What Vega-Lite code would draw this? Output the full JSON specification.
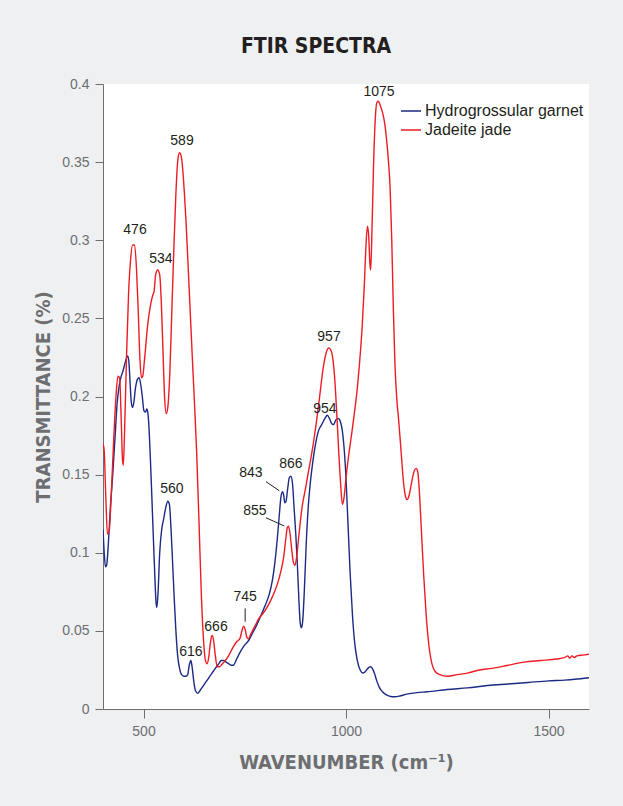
{
  "$schema": "https://vega.github.io/schema/vega-lite/v6.json",
  "width": 486,
  "height": 625,
  "autosize": {"type": "none"},
  "padding": {"left": 103, "top": 84, "right": 34, "bottom": 97},
  "background": "#eff0f2",
  "view": {"fill": "white", "stroke": null},
  "title": {
    "text": "FTIR SPECTRA",
    "anchor": "middle",
    "frame": "group",
    "dx": -30,
    "font": "DejaVu Sans Condensed",
    "fontSize": 21,
    "fontWeight": "bold",
    "color": "#231f20",
    "offset": 20
  },
  "datasets": {
    "labels": [
      {"w": 1081.5, "v": 0.3949, "t": "1075"},
      {"w": 595, "v": 0.3635, "t": "589"},
      {"w": 479, "v": 0.3066, "t": "476"},
      {"w": 543, "v": 0.288, "t": "534"},
      {"w": 570, "v": 0.1408, "t": "560"},
      {"w": 617, "v": 0.0365, "t": "616"},
      {"w": 679, "v": 0.0525, "t": "666"},
      {"w": 751, "v": 0.0717, "t": "745"},
      {"w": 765, "v": 0.151, "t": "843"},
      {"w": 864, "v": 0.1568, "t": "866"},
      {"w": 775, "v": 0.1267, "t": "855"},
      {"w": 958, "v": 0.238, "t": "957"},
      {"w": 948, "v": 0.192, "t": "954"}
    ],
    "leaders": [
      {"w": 751, "v": 0.0644, "w2": 751, "v2": 0.0559},
      {"w": 802.5, "v": 0.1455, "w2": 835.3, "v2": 0.1397},
      {"w": 802.5, "v": 0.1224, "w2": 847.7, "v2": 0.1171}
    ],
    "spectra": [
      {"s": "Hydrogrossular garnet", "w": 400, "v": 0.115},
      {"s": "Hydrogrossular garnet", "w": 403, "v": 0.1},
      {"s": "Hydrogrossular garnet", "w": 406, "v": 0.091},
      {"s": "Hydrogrossular garnet", "w": 409, "v": 0.092},
      {"s": "Hydrogrossular garnet", "w": 413, "v": 0.105},
      {"s": "Hydrogrossular garnet", "w": 418, "v": 0.128},
      {"s": "Hydrogrossular garnet", "w": 424, "v": 0.15},
      {"s": "Hydrogrossular garnet", "w": 430, "v": 0.175},
      {"s": "Hydrogrossular garnet", "w": 435, "v": 0.196},
      {"s": "Hydrogrossular garnet", "w": 440, "v": 0.207},
      {"s": "Hydrogrossular garnet", "w": 445, "v": 0.213},
      {"s": "Hydrogrossular garnet", "w": 450, "v": 0.217},
      {"s": "Hydrogrossular garnet", "w": 455, "v": 0.222},
      {"s": "Hydrogrossular garnet", "w": 461, "v": 0.226},
      {"s": "Hydrogrossular garnet", "w": 464, "v": 0.222},
      {"s": "Hydrogrossular garnet", "w": 467, "v": 0.208},
      {"s": "Hydrogrossular garnet", "w": 470, "v": 0.196},
      {"s": "Hydrogrossular garnet", "w": 473, "v": 0.193},
      {"s": "Hydrogrossular garnet", "w": 476, "v": 0.196},
      {"s": "Hydrogrossular garnet", "w": 480, "v": 0.205},
      {"s": "Hydrogrossular garnet", "w": 485, "v": 0.211},
      {"s": "Hydrogrossular garnet", "w": 489, "v": 0.212},
      {"s": "Hydrogrossular garnet", "w": 493, "v": 0.208},
      {"s": "Hydrogrossular garnet", "w": 497, "v": 0.2},
      {"s": "Hydrogrossular garnet", "w": 501, "v": 0.191},
      {"s": "Hydrogrossular garnet", "w": 505, "v": 0.19},
      {"s": "Hydrogrossular garnet", "w": 508, "v": 0.192},
      {"s": "Hydrogrossular garnet", "w": 511, "v": 0.189},
      {"s": "Hydrogrossular garnet", "w": 514, "v": 0.178},
      {"s": "Hydrogrossular garnet", "w": 517, "v": 0.16},
      {"s": "Hydrogrossular garnet", "w": 520, "v": 0.14},
      {"s": "Hydrogrossular garnet", "w": 524, "v": 0.112},
      {"s": "Hydrogrossular garnet", "w": 528, "v": 0.085},
      {"s": "Hydrogrossular garnet", "w": 531, "v": 0.068},
      {"s": "Hydrogrossular garnet", "w": 533, "v": 0.065},
      {"s": "Hydrogrossular garnet", "w": 536, "v": 0.075},
      {"s": "Hydrogrossular garnet", "w": 540, "v": 0.1},
      {"s": "Hydrogrossular garnet", "w": 545, "v": 0.115},
      {"s": "Hydrogrossular garnet", "w": 550, "v": 0.122},
      {"s": "Hydrogrossular garnet", "w": 555, "v": 0.129},
      {"s": "Hydrogrossular garnet", "w": 560, "v": 0.133},
      {"s": "Hydrogrossular garnet", "w": 564, "v": 0.131},
      {"s": "Hydrogrossular garnet", "w": 568, "v": 0.115},
      {"s": "Hydrogrossular garnet", "w": 572, "v": 0.093},
      {"s": "Hydrogrossular garnet", "w": 576, "v": 0.07},
      {"s": "Hydrogrossular garnet", "w": 580, "v": 0.05},
      {"s": "Hydrogrossular garnet", "w": 584, "v": 0.035},
      {"s": "Hydrogrossular garnet", "w": 589, "v": 0.026},
      {"s": "Hydrogrossular garnet", "w": 594, "v": 0.022},
      {"s": "Hydrogrossular garnet", "w": 600, "v": 0.021},
      {"s": "Hydrogrossular garnet", "w": 605, "v": 0.021},
      {"s": "Hydrogrossular garnet", "w": 609, "v": 0.022},
      {"s": "Hydrogrossular garnet", "w": 613, "v": 0.028},
      {"s": "Hydrogrossular garnet", "w": 617, "v": 0.031},
      {"s": "Hydrogrossular garnet", "w": 620, "v": 0.027},
      {"s": "Hydrogrossular garnet", "w": 624, "v": 0.018},
      {"s": "Hydrogrossular garnet", "w": 628, "v": 0.012},
      {"s": "Hydrogrossular garnet", "w": 634, "v": 0.01},
      {"s": "Hydrogrossular garnet", "w": 640, "v": 0.012},
      {"s": "Hydrogrossular garnet", "w": 648, "v": 0.015},
      {"s": "Hydrogrossular garnet", "w": 656, "v": 0.018},
      {"s": "Hydrogrossular garnet", "w": 664, "v": 0.021},
      {"s": "Hydrogrossular garnet", "w": 672, "v": 0.024},
      {"s": "Hydrogrossular garnet", "w": 680, "v": 0.027},
      {"s": "Hydrogrossular garnet", "w": 686, "v": 0.029},
      {"s": "Hydrogrossular garnet", "w": 692, "v": 0.031},
      {"s": "Hydrogrossular garnet", "w": 698, "v": 0.031},
      {"s": "Hydrogrossular garnet", "w": 704, "v": 0.03},
      {"s": "Hydrogrossular garnet", "w": 710, "v": 0.029},
      {"s": "Hydrogrossular garnet", "w": 716, "v": 0.028},
      {"s": "Hydrogrossular garnet", "w": 722, "v": 0.028},
      {"s": "Hydrogrossular garnet", "w": 730, "v": 0.032},
      {"s": "Hydrogrossular garnet", "w": 740, "v": 0.037},
      {"s": "Hydrogrossular garnet", "w": 750, "v": 0.041},
      {"s": "Hydrogrossular garnet", "w": 760, "v": 0.044},
      {"s": "Hydrogrossular garnet", "w": 770, "v": 0.049},
      {"s": "Hydrogrossular garnet", "w": 780, "v": 0.054},
      {"s": "Hydrogrossular garnet", "w": 790, "v": 0.06},
      {"s": "Hydrogrossular garnet", "w": 800, "v": 0.066},
      {"s": "Hydrogrossular garnet", "w": 810, "v": 0.073},
      {"s": "Hydrogrossular garnet", "w": 818, "v": 0.082},
      {"s": "Hydrogrossular garnet", "w": 825, "v": 0.095},
      {"s": "Hydrogrossular garnet", "w": 830, "v": 0.108},
      {"s": "Hydrogrossular garnet", "w": 835, "v": 0.123},
      {"s": "Hydrogrossular garnet", "w": 839, "v": 0.135},
      {"s": "Hydrogrossular garnet", "w": 843, "v": 0.139},
      {"s": "Hydrogrossular garnet", "w": 846, "v": 0.137},
      {"s": "Hydrogrossular garnet", "w": 849, "v": 0.132},
      {"s": "Hydrogrossular garnet", "w": 852, "v": 0.133},
      {"s": "Hydrogrossular garnet", "w": 856, "v": 0.141},
      {"s": "Hydrogrossular garnet", "w": 860, "v": 0.148},
      {"s": "Hydrogrossular garnet", "w": 864, "v": 0.149},
      {"s": "Hydrogrossular garnet", "w": 868, "v": 0.144},
      {"s": "Hydrogrossular garnet", "w": 872, "v": 0.128},
      {"s": "Hydrogrossular garnet", "w": 876, "v": 0.112},
      {"s": "Hydrogrossular garnet", "w": 880, "v": 0.092},
      {"s": "Hydrogrossular garnet", "w": 884, "v": 0.068},
      {"s": "Hydrogrossular garnet", "w": 887, "v": 0.055},
      {"s": "Hydrogrossular garnet", "w": 890, "v": 0.052},
      {"s": "Hydrogrossular garnet", "w": 893, "v": 0.056},
      {"s": "Hydrogrossular garnet", "w": 897, "v": 0.075},
      {"s": "Hydrogrossular garnet", "w": 902, "v": 0.107},
      {"s": "Hydrogrossular garnet", "w": 907, "v": 0.13},
      {"s": "Hydrogrossular garnet", "w": 912, "v": 0.145},
      {"s": "Hydrogrossular garnet", "w": 918, "v": 0.158},
      {"s": "Hydrogrossular garnet", "w": 925, "v": 0.17},
      {"s": "Hydrogrossular garnet", "w": 932, "v": 0.178},
      {"s": "Hydrogrossular garnet", "w": 940, "v": 0.182},
      {"s": "Hydrogrossular garnet", "w": 948, "v": 0.186},
      {"s": "Hydrogrossular garnet", "w": 954, "v": 0.188},
      {"s": "Hydrogrossular garnet", "w": 959, "v": 0.186},
      {"s": "Hydrogrossular garnet", "w": 964, "v": 0.183},
      {"s": "Hydrogrossular garnet", "w": 969, "v": 0.182},
      {"s": "Hydrogrossular garnet", "w": 975, "v": 0.185},
      {"s": "Hydrogrossular garnet", "w": 981, "v": 0.186},
      {"s": "Hydrogrossular garnet", "w": 986, "v": 0.184},
      {"s": "Hydrogrossular garnet", "w": 991, "v": 0.178},
      {"s": "Hydrogrossular garnet", "w": 995, "v": 0.168},
      {"s": "Hydrogrossular garnet", "w": 1000, "v": 0.148},
      {"s": "Hydrogrossular garnet", "w": 1005, "v": 0.118},
      {"s": "Hydrogrossular garnet", "w": 1010, "v": 0.088},
      {"s": "Hydrogrossular garnet", "w": 1016, "v": 0.06},
      {"s": "Hydrogrossular garnet", "w": 1022, "v": 0.041},
      {"s": "Hydrogrossular garnet", "w": 1028, "v": 0.031},
      {"s": "Hydrogrossular garnet", "w": 1035, "v": 0.025},
      {"s": "Hydrogrossular garnet", "w": 1042, "v": 0.023},
      {"s": "Hydrogrossular garnet", "w": 1048, "v": 0.024},
      {"s": "Hydrogrossular garnet", "w": 1054, "v": 0.026},
      {"s": "Hydrogrossular garnet", "w": 1060, "v": 0.027},
      {"s": "Hydrogrossular garnet", "w": 1065, "v": 0.026},
      {"s": "Hydrogrossular garnet", "w": 1070, "v": 0.023},
      {"s": "Hydrogrossular garnet", "w": 1076, "v": 0.018},
      {"s": "Hydrogrossular garnet", "w": 1082, "v": 0.014},
      {"s": "Hydrogrossular garnet", "w": 1090, "v": 0.011},
      {"s": "Hydrogrossular garnet", "w": 1100, "v": 0.009},
      {"s": "Hydrogrossular garnet", "w": 1110, "v": 0.008},
      {"s": "Hydrogrossular garnet", "w": 1121, "v": 0.0078},
      {"s": "Hydrogrossular garnet", "w": 1135, "v": 0.0085},
      {"s": "Hydrogrossular garnet", "w": 1150, "v": 0.0095},
      {"s": "Hydrogrossular garnet", "w": 1175, "v": 0.0105},
      {"s": "Hydrogrossular garnet", "w": 1200, "v": 0.011},
      {"s": "Hydrogrossular garnet", "w": 1250, "v": 0.0125},
      {"s": "Hydrogrossular garnet", "w": 1300, "v": 0.0135},
      {"s": "Hydrogrossular garnet", "w": 1350, "v": 0.015},
      {"s": "Hydrogrossular garnet", "w": 1400, "v": 0.016},
      {"s": "Hydrogrossular garnet", "w": 1450, "v": 0.017},
      {"s": "Hydrogrossular garnet", "w": 1500, "v": 0.018},
      {"s": "Hydrogrossular garnet", "w": 1540, "v": 0.0185},
      {"s": "Hydrogrossular garnet", "w": 1565, "v": 0.019},
      {"s": "Hydrogrossular garnet", "w": 1600, "v": 0.02},
      {"s": "Jadeite jade", "w": 400, "v": 0.17},
      {"s": "Jadeite jade", "w": 403, "v": 0.165},
      {"s": "Jadeite jade", "w": 407, "v": 0.135},
      {"s": "Jadeite jade", "w": 411, "v": 0.112},
      {"s": "Jadeite jade", "w": 415, "v": 0.113},
      {"s": "Jadeite jade", "w": 420, "v": 0.135},
      {"s": "Jadeite jade", "w": 426, "v": 0.17},
      {"s": "Jadeite jade", "w": 432, "v": 0.2},
      {"s": "Jadeite jade", "w": 437, "v": 0.213},
      {"s": "Jadeite jade", "w": 441, "v": 0.212},
      {"s": "Jadeite jade", "w": 445, "v": 0.185},
      {"s": "Jadeite jade", "w": 448, "v": 0.16},
      {"s": "Jadeite jade", "w": 450, "v": 0.156},
      {"s": "Jadeite jade", "w": 453, "v": 0.175},
      {"s": "Jadeite jade", "w": 458, "v": 0.225},
      {"s": "Jadeite jade", "w": 463, "v": 0.265},
      {"s": "Jadeite jade", "w": 468, "v": 0.287},
      {"s": "Jadeite jade", "w": 473, "v": 0.297},
      {"s": "Jadeite jade", "w": 478, "v": 0.297},
      {"s": "Jadeite jade", "w": 483, "v": 0.28},
      {"s": "Jadeite jade", "w": 487, "v": 0.255},
      {"s": "Jadeite jade", "w": 491, "v": 0.225},
      {"s": "Jadeite jade", "w": 495, "v": 0.212},
      {"s": "Jadeite jade", "w": 498, "v": 0.213},
      {"s": "Jadeite jade", "w": 503, "v": 0.225},
      {"s": "Jadeite jade", "w": 510, "v": 0.245},
      {"s": "Jadeite jade", "w": 517, "v": 0.258},
      {"s": "Jadeite jade", "w": 523, "v": 0.265},
      {"s": "Jadeite jade", "w": 526, "v": 0.267},
      {"s": "Jadeite jade", "w": 530, "v": 0.278},
      {"s": "Jadeite jade", "w": 535, "v": 0.281},
      {"s": "Jadeite jade", "w": 540, "v": 0.278},
      {"s": "Jadeite jade", "w": 544, "v": 0.26},
      {"s": "Jadeite jade", "w": 548, "v": 0.23},
      {"s": "Jadeite jade", "w": 552, "v": 0.2},
      {"s": "Jadeite jade", "w": 556, "v": 0.189},
      {"s": "Jadeite jade", "w": 560, "v": 0.193},
      {"s": "Jadeite jade", "w": 565, "v": 0.215},
      {"s": "Jadeite jade", "w": 570, "v": 0.255},
      {"s": "Jadeite jade", "w": 575, "v": 0.295},
      {"s": "Jadeite jade", "w": 580, "v": 0.33},
      {"s": "Jadeite jade", "w": 585, "v": 0.352},
      {"s": "Jadeite jade", "w": 589, "v": 0.356},
      {"s": "Jadeite jade", "w": 593, "v": 0.354},
      {"s": "Jadeite jade", "w": 597, "v": 0.345},
      {"s": "Jadeite jade", "w": 601, "v": 0.33},
      {"s": "Jadeite jade", "w": 605, "v": 0.312},
      {"s": "Jadeite jade", "w": 609, "v": 0.29},
      {"s": "Jadeite jade", "w": 614, "v": 0.262},
      {"s": "Jadeite jade", "w": 620, "v": 0.228},
      {"s": "Jadeite jade", "w": 626, "v": 0.195},
      {"s": "Jadeite jade", "w": 631, "v": 0.166},
      {"s": "Jadeite jade", "w": 637, "v": 0.12},
      {"s": "Jadeite jade", "w": 643, "v": 0.072},
      {"s": "Jadeite jade", "w": 648, "v": 0.045},
      {"s": "Jadeite jade", "w": 653, "v": 0.031},
      {"s": "Jadeite jade", "w": 657, "v": 0.029},
      {"s": "Jadeite jade", "w": 661, "v": 0.033},
      {"s": "Jadeite jade", "w": 665, "v": 0.042},
      {"s": "Jadeite jade", "w": 669, "v": 0.047},
      {"s": "Jadeite jade", "w": 673, "v": 0.044},
      {"s": "Jadeite jade", "w": 677, "v": 0.035},
      {"s": "Jadeite jade", "w": 682, "v": 0.027},
      {"s": "Jadeite jade", "w": 688, "v": 0.027},
      {"s": "Jadeite jade", "w": 695, "v": 0.029},
      {"s": "Jadeite jade", "w": 702, "v": 0.031},
      {"s": "Jadeite jade", "w": 710, "v": 0.034},
      {"s": "Jadeite jade", "w": 720, "v": 0.039},
      {"s": "Jadeite jade", "w": 730, "v": 0.043},
      {"s": "Jadeite jade", "w": 738, "v": 0.045},
      {"s": "Jadeite jade", "w": 743, "v": 0.05},
      {"s": "Jadeite jade", "w": 747, "v": 0.053},
      {"s": "Jadeite jade", "w": 751, "v": 0.051},
      {"s": "Jadeite jade", "w": 755, "v": 0.046},
      {"s": "Jadeite jade", "w": 759, "v": 0.045},
      {"s": "Jadeite jade", "w": 765, "v": 0.048},
      {"s": "Jadeite jade", "w": 775, "v": 0.053},
      {"s": "Jadeite jade", "w": 785, "v": 0.058},
      {"s": "Jadeite jade", "w": 795, "v": 0.061},
      {"s": "Jadeite jade", "w": 805, "v": 0.065},
      {"s": "Jadeite jade", "w": 815, "v": 0.07},
      {"s": "Jadeite jade", "w": 825, "v": 0.076},
      {"s": "Jadeite jade", "w": 833, "v": 0.082},
      {"s": "Jadeite jade", "w": 840, "v": 0.089},
      {"s": "Jadeite jade", "w": 846, "v": 0.097},
      {"s": "Jadeite jade", "w": 851, "v": 0.108},
      {"s": "Jadeite jade", "w": 855, "v": 0.116},
      {"s": "Jadeite jade", "w": 858, "v": 0.117},
      {"s": "Jadeite jade", "w": 862, "v": 0.112},
      {"s": "Jadeite jade", "w": 866, "v": 0.102},
      {"s": "Jadeite jade", "w": 870, "v": 0.094},
      {"s": "Jadeite jade", "w": 874, "v": 0.092},
      {"s": "Jadeite jade", "w": 878, "v": 0.097},
      {"s": "Jadeite jade", "w": 884, "v": 0.112},
      {"s": "Jadeite jade", "w": 892, "v": 0.13},
      {"s": "Jadeite jade", "w": 900, "v": 0.141},
      {"s": "Jadeite jade", "w": 906, "v": 0.15},
      {"s": "Jadeite jade", "w": 915, "v": 0.163},
      {"s": "Jadeite jade", "w": 925, "v": 0.18},
      {"s": "Jadeite jade", "w": 935, "v": 0.2},
      {"s": "Jadeite jade", "w": 943, "v": 0.217},
      {"s": "Jadeite jade", "w": 950, "v": 0.227},
      {"s": "Jadeite jade", "w": 957, "v": 0.231},
      {"s": "Jadeite jade", "w": 962, "v": 0.23},
      {"s": "Jadeite jade", "w": 967, "v": 0.225},
      {"s": "Jadeite jade", "w": 972, "v": 0.212},
      {"s": "Jadeite jade", "w": 977, "v": 0.19},
      {"s": "Jadeite jade", "w": 982, "v": 0.165},
      {"s": "Jadeite jade", "w": 987, "v": 0.143},
      {"s": "Jadeite jade", "w": 991, "v": 0.131},
      {"s": "Jadeite jade", "w": 995, "v": 0.135},
      {"s": "Jadeite jade", "w": 1000, "v": 0.148},
      {"s": "Jadeite jade", "w": 1008, "v": 0.165},
      {"s": "Jadeite jade", "w": 1015, "v": 0.178},
      {"s": "Jadeite jade", "w": 1021, "v": 0.19},
      {"s": "Jadeite jade", "w": 1027, "v": 0.203},
      {"s": "Jadeite jade", "w": 1033, "v": 0.22},
      {"s": "Jadeite jade", "w": 1040, "v": 0.245},
      {"s": "Jadeite jade", "w": 1045, "v": 0.27},
      {"s": "Jadeite jade", "w": 1049, "v": 0.295},
      {"s": "Jadeite jade", "w": 1053, "v": 0.309},
      {"s": "Jadeite jade", "w": 1056, "v": 0.303},
      {"s": "Jadeite jade", "w": 1059, "v": 0.285},
      {"s": "Jadeite jade", "w": 1061, "v": 0.281},
      {"s": "Jadeite jade", "w": 1064, "v": 0.305},
      {"s": "Jadeite jade", "w": 1068, "v": 0.348},
      {"s": "Jadeite jade", "w": 1072, "v": 0.376},
      {"s": "Jadeite jade", "w": 1076, "v": 0.388},
      {"s": "Jadeite jade", "w": 1080, "v": 0.389},
      {"s": "Jadeite jade", "w": 1085, "v": 0.386},
      {"s": "Jadeite jade", "w": 1090, "v": 0.382},
      {"s": "Jadeite jade", "w": 1096, "v": 0.374},
      {"s": "Jadeite jade", "w": 1100, "v": 0.365},
      {"s": "Jadeite jade", "w": 1105, "v": 0.35},
      {"s": "Jadeite jade", "w": 1109, "v": 0.333},
      {"s": "Jadeite jade", "w": 1113, "v": 0.3},
      {"s": "Jadeite jade", "w": 1117, "v": 0.255},
      {"s": "Jadeite jade", "w": 1121, "v": 0.22},
      {"s": "Jadeite jade", "w": 1125, "v": 0.2},
      {"s": "Jadeite jade", "w": 1130, "v": 0.185},
      {"s": "Jadeite jade", "w": 1136, "v": 0.165},
      {"s": "Jadeite jade", "w": 1142, "v": 0.145},
      {"s": "Jadeite jade", "w": 1147, "v": 0.136},
      {"s": "Jadeite jade", "w": 1151, "v": 0.134},
      {"s": "Jadeite jade", "w": 1156, "v": 0.137},
      {"s": "Jadeite jade", "w": 1162, "v": 0.145},
      {"s": "Jadeite jade", "w": 1168, "v": 0.152},
      {"s": "Jadeite jade", "w": 1173, "v": 0.154},
      {"s": "Jadeite jade", "w": 1177, "v": 0.152},
      {"s": "Jadeite jade", "w": 1181, "v": 0.14},
      {"s": "Jadeite jade", "w": 1186, "v": 0.115},
      {"s": "Jadeite jade", "w": 1192, "v": 0.085},
      {"s": "Jadeite jade", "w": 1198, "v": 0.06},
      {"s": "Jadeite jade", "w": 1205, "v": 0.04},
      {"s": "Jadeite jade", "w": 1212, "v": 0.029},
      {"s": "Jadeite jade", "w": 1220, "v": 0.024},
      {"s": "Jadeite jade", "w": 1232, "v": 0.022},
      {"s": "Jadeite jade", "w": 1250, "v": 0.021},
      {"s": "Jadeite jade", "w": 1275, "v": 0.022},
      {"s": "Jadeite jade", "w": 1300, "v": 0.023},
      {"s": "Jadeite jade", "w": 1330, "v": 0.025},
      {"s": "Jadeite jade", "w": 1360, "v": 0.026},
      {"s": "Jadeite jade", "w": 1400, "v": 0.028},
      {"s": "Jadeite jade", "w": 1440, "v": 0.03},
      {"s": "Jadeite jade", "w": 1480, "v": 0.031},
      {"s": "Jadeite jade", "w": 1520, "v": 0.032},
      {"s": "Jadeite jade", "w": 1540, "v": 0.033},
      {"s": "Jadeite jade", "w": 1548, "v": 0.034},
      {"s": "Jadeite jade", "w": 1552, "v": 0.0325},
      {"s": "Jadeite jade", "w": 1558, "v": 0.034},
      {"s": "Jadeite jade", "w": 1564, "v": 0.033},
      {"s": "Jadeite jade", "w": 1570, "v": 0.034},
      {"s": "Jadeite jade", "w": 1585, "v": 0.0345},
      {"s": "Jadeite jade", "w": 1600, "v": 0.035}
    ]
  },
  "layer": [
    {
      "data": {"name": "spectra"},
      "mark": {"type": "line", "interpolate": "monotone", "strokeWidth": 1.4, "clip": true},
      "encoding": {
        "x": {
          "field": "w",
          "type": "quantitative",
          "scale": {"domain": [400, 1600], "nice": false, "zero": false},
          "axis": {
            "title": "WAVENUMBER (cm⁻¹)",
            "values": [500, 1000, 1500],
            "format": "d",
            "grid": false,
            "tickSize": 9,
            "labelPadding": 6,
            "labelFont": "Liberation Sans",
            "labelFontSize": 14,
            "labelColor": "#6d6e71",
            "domainColor": "#6d6e71",
            "tickColor": "#6d6e71",
            "titleFont": "DejaVu Sans Condensed",
            "titleFontSize": 20,
            "titleFontWeight": "bold",
            "titleColor": "#6d6e71",
            "titlePadding": 14
          }
        },
        "y": {
          "field": "v",
          "type": "quantitative",
          "scale": {"domain": [0, 0.4], "nice": false},
          "axis": {
            "title": "TRANSMITTANCE (%)",
            "values": [0, 0.05, 0.1, 0.15, 0.2, 0.25, 0.3, 0.35, 0.4],
            "format": ".2~f",
            "grid": false,
            "tickSize": 8,
            "labelPadding": 6,
            "labelFont": "Liberation Sans",
            "labelFontSize": 14,
            "labelColor": "#6d6e71",
            "domainColor": "#6d6e71",
            "tickColor": "#6d6e71",
            "titleFont": "DejaVu Sans Condensed",
            "titleFontSize": 20,
            "titleFontWeight": "bold",
            "titleColor": "#6d6e71",
            "titlePadding": 8
          }
        },
        "color": {
          "field": "s",
          "type": "nominal",
          "scale": {"domain": ["Hydrogrossular garnet", "Jadeite jade"], "range": ["#1b2a84", "#ed1c24"]},
          "legend": {
            "title": null,
            "orient": "none",
            "legendX": 297,
            "legendY": 16,
            "padding": 0,
            "symbolType": "stroke",
            "symbolSize": 400,
            "symbolStrokeWidth": 1.5,
            "labelFont": "Liberation Sans",
            "labelFontSize": 16,
            "labelColor": "#231f20",
            "labelOffset": 3,
            "rowPadding": 0
          }
        }
      }
    },
    {
      "data": {"name": "leaders"},
      "mark": {"type": "rule", "stroke": "#231f20", "strokeWidth": 1},
      "encoding": {
        "x": {"field": "w", "type": "quantitative"},
        "y": {"field": "v", "type": "quantitative"},
        "x2": {"field": "w2"},
        "y2": {"field": "v2"}
      }
    },
    {
      "data": {"name": "labels"},
      "mark": {"type": "text", "font": "Liberation Sans", "fontSize": 14, "fill": "#231f20", "align": "center", "baseline": "middle"},
      "encoding": {
        "x": {"field": "w", "type": "quantitative"},
        "y": {"field": "v", "type": "quantitative"},
        "text": {"field": "t"}
      }
    }
  ]
}
